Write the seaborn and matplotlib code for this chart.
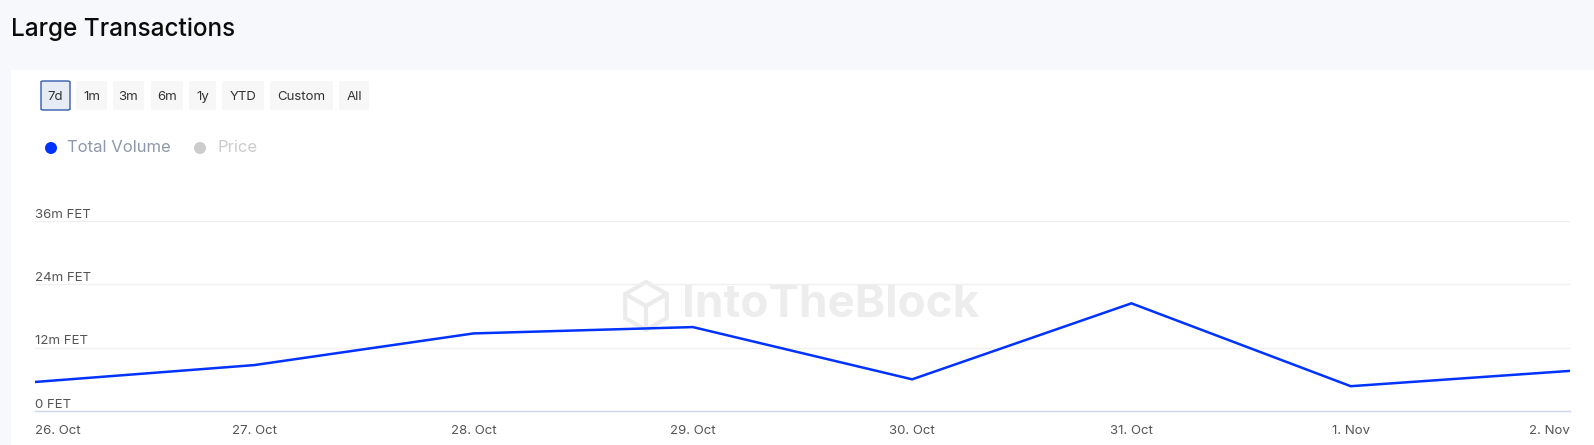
import matplotlib
matplotlib.use("Agg")

import numpy as np
import pandas as pd
import matplotlib.pyplot as plt
import matplotlib.transforms as mtransforms
from matplotlib.patches import Rectangle, FancyBboxPatch, Ellipse, Polygon
import seaborn as sns

# --------------------------
# data (millions of FET)

dates = pd.to_datetime([
    "2024-10-26", "2024-10-27", "2024-10-28", "2024-10-29",
    "2024-10-30", "2024-10-31", "2024-11-01", "2024-11-02",
])
date_labels = ["26. Oct", "27. Oct", "28. Oct", "29. Oct",
               "30. Oct", "31. Oct", "1. Nov", "2. Nov"]
total_volume = [5.5, 8.7, 14.7, 15.9, 6.0, 20.4, 4.7, 7.6]

y_ticks = [0, 12, 24, 36]
y_labels = ["0 FET", "12m FET", "24m FET", "36m FET"]

range_buttons = ["7d", "1m", "3m", "6m", "1y", "YTD", "Custom", "All"]

# --------------------------

W, H = 1594, 445

sns.set_style("white")
plt.rcParams["font.family"] = ["Inter", "DejaVu Sans"]

fig = plt.figure(figsize=(W / 100, H / 100), dpi=100, facecolor="#f7f8fb")


def fx(x):
    return x / W


def fy(y):
    return 1 - y / H


# white card
fig.patches.append(Rectangle((fx(11), 0), 1 - fx(11), fy(70),
                             transform=fig.transFigure,
                             facecolor="white", edgecolor="none", zorder=0))

fig.text(fx(11), fy(29), "Large Transactions", fontsize=17.5,
         fontweight="medium", color="#0b0b0b", va="center", ha="left")

# range selector buttons
btn_x = [(41, 70), (76, 107), (113, 144), (151, 183),
         (189, 216), (222, 264), (270, 333), (339, 369)]
for i, (label, (x0, x1)) in enumerate(zip(range_buttons, btn_x)):
    selected = i == 0
    fig.patches.append(FancyBboxPatch(
        (fx(x0), fy(110)), fx(x1 - x0), 29 / H,
        boxstyle="round,pad=0,rounding_size=0.002",
        transform=fig.transFigure,
        facecolor="#e6ebf5" if selected else "#f7f7f7",
        edgecolor="#335cad" if selected else "none",
        linewidth=1.0, zorder=1))
    fig.text(fx((x0 + x1) / 2), fy(97), label, fontsize=9.5,
             color="#333333", ha="center", va="center")

# legend
fig.patches.append(Ellipse((fx(51), fy(148)), 12 / W, 12 / H,
                           transform=fig.transFigure,
                           facecolor="#0033ff", edgecolor="none", zorder=1))
fig.text(fx(67), fy(147.5), "Total Volume", fontsize=12, color="#8f98a8",
         ha="left", va="center")
fig.patches.append(Ellipse((fx(200), fy(148)), 12 / W, 12 / H,
                           transform=fig.transFigure,
                           facecolor="#cccccc", edgecolor="none", zorder=1))
fig.text(fx(217), fy(147.5), "Price", fontsize=12, color="#cccccc",
         ha="left", va="center")

# watermark
fig.text(fx(831), fy(305), "IntoTheBlock", fontsize=33, fontweight="bold",
         color="#ededed", ha="center", va="center", zorder=1)
cx, cy, r = 646, 306, 24
ang = np.deg2rad(np.arange(6) * 60 + 30)
hex_pts = [(fx(cx + r * np.cos(a)), fy(cy + r * np.sin(a))) for a in ang]
fig.patches.append(Polygon(hex_pts, closed=True, transform=fig.transFigure,
                           facecolor="none", edgecolor="#ebebeb",
                           linewidth=3, zorder=1))
for a in ang[::2]:
    fig.lines.append(plt.Line2D([fx(cx), fx(cx + r * np.cos(a + np.pi))],
                                [fy(cy), fy(cy + r * np.sin(a + np.pi))],
                                transform=fig.transFigure, color="#ebebeb",
                                linewidth=3, zorder=1))

# --------------------------

ax = fig.add_axes([fx(35), fy(411), fx(1570 - 35), 190 / H])
ax.set_facecolor("none")
ax.set_zorder(2)

sns.lineplot(x=dates, y=total_volume, ax=ax, color="#0033ff",
             linewidth=1.8, zorder=3)

ax.set_xlim(dates[0], dates[-1])
ax.set_ylim(0, 36)

ax.set_yticks(y_ticks)
ax.set_yticklabels([])
ax.tick_params(axis="y", length=0)
ax.grid(axis="y", color="#f0f0f0", linewidth=1)
ax.grid(axis="x", visible=False)

trans = mtransforms.blended_transform_factory(ax.transAxes, ax.transData)
for v, lab in zip(y_ticks, y_labels):
    ax.text(0, v, lab + "\n", transform=trans, fontsize=9.5, color="#555555",
            ha="left", va="center", linespacing=1.1)

ax.set_xticks(dates)
ax.set_xticklabels(date_labels, fontsize=9.5, color="#555555")
ax.tick_params(axis="x", length=8, width=1, color="#ccd6eb", pad=2)
ticklabels = ax.get_xticklabels()
ticklabels[0].set_ha("left")
ticklabels[-1].set_ha("right")

for side in ["top", "right", "left"]:
    ax.spines[side].set_visible(False)
ax.spines["bottom"].set_color("#ccd6eb")
ax.spines["bottom"].set_linewidth(1)

ax.set_xlabel("")
ax.set_ylabel("")

plt.savefig("out.png", dpi=100, facecolor=fig.get_facecolor())
